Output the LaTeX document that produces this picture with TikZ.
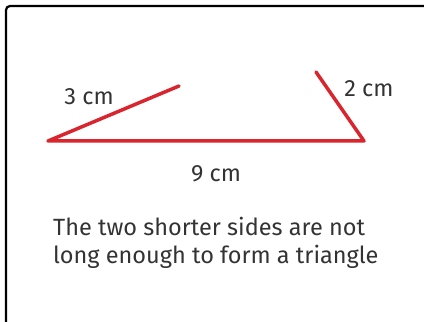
\documentclass[tikz,border=0pt]{standalone}
\usepackage{fontspec}
\setmainfont{Fira Sans}
\definecolor{redline}{HTML}{D9262E}
\definecolor{txt}{HTML}{333333}
\begin{document}
\begin{tikzpicture}[x=1pt,y=1pt,
  side/.style={draw=redline,line width=3.5pt,line cap=round,line join=round},
  lbl/.style={text=txt,font=\fontsize{23.5}{28}\selectfont,inner sep=0pt,anchor=base},
  body/.style={text=txt,font=\fontsize{23.5}{28}\selectfont,inner sep=0pt,anchor=base west}]
\useasboundingbox (0,0) rectangle (424,322);
\clip (0,0) rectangle (424,322);
\draw[line width=2.2pt,rounded corners=4pt] (6,-10) -- (6,316) -- (440,316);
\coordinate (A) at (48,181);
\coordinate (B) at (364,181);
\coordinate (C) at (179,236);
\coordinate (D) at (316,250);
\draw[side] (C) -- (A) -- (B) -- (D);
\node[lbl] (l3) at (89,217) {3 cm};
\node[lbl] (l2) at (369,225) {2 cm};
\node[lbl] (l9) at (216,140) {9 cm};
\node[body] (t1) at (53,86) {The two shorter sides are not};
\node[body] (t2) at (53,58) {long enough to form a triangle};
\end{tikzpicture}
\end{document}
